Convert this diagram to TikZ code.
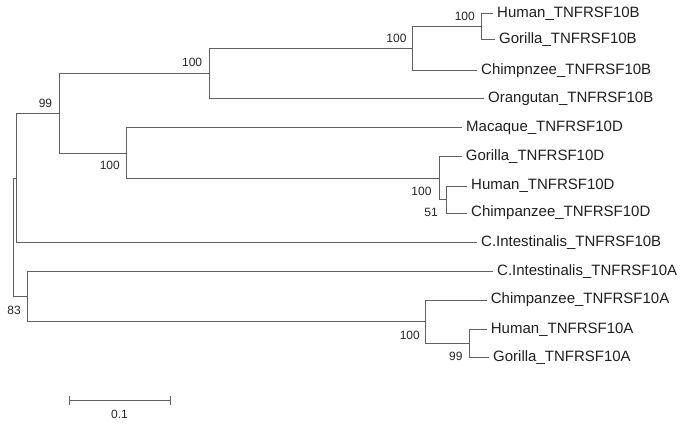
\documentclass[tikz,border=0pt]{standalone}
\usepackage{fontspec}
\setmainfont{Liberation Sans}
\begin{document}
\begin{tikzpicture}[x=1pt,y=-1pt,
  branch/.style={draw=black!62, line width=1pt},
  leaf/.style={anchor=west, inner xsep=4pt, inner ysep=0pt, text=black!88,
    font=\fontsize{15}{15}\selectfont},
  boot/.style={anchor=east, inner sep=0pt, text=black!85,
    font=\fontsize{12}{12}\selectfont}]
\useasboundingbox (0,0) rectangle (685,425);
% internal nodes
\coordinate (root)  at (13.3,237);
\coordinate (n16)   at (16,178);
\coordinate (n99)   at (59,113.5);
\coordinate (nB)    at (209,74);
\coordinate (nHGCB) at (412.7,48.4);
\coordinate (nHGB)  at (481.7,26.4);
\coordinate (nD)    at (126,153);
\coordinate (nGHCD) at (439,178);
\coordinate (nHCD)  at (446,199.5);
\coordinate (nA0)   at (27.3,296.2);
\coordinate (nA)    at (425.7,321.7);
\coordinate (nHGA)  at (469.3,343.5);
% leaves
\node[leaf] (hB)  at (493,13.3)   {Human\_TNFRSF10B};
\node[leaf] (gB)  at (495,39.5)   {Gorilla\_TNFRSF10B};
\node[leaf] (cB)  at (477,70.3)   {Chimpnzee\_TNFRSF10B};
\node[leaf] (oB)  at (484,99)     {Orangutan\_TNFRSF10B};
\node[leaf] (mD)  at (462,128)    {Macaque\_TNFRSF10D};
\node[leaf] (gD)  at (461.7,156.8){Gorilla\_TNFRSF10D};
\node[leaf] (hD)  at (467,186)    {Human\_TNFRSF10D};
\node[leaf] (cD)  at (467,213)    {Chimpanzee\_TNFRSF10D};
\node[leaf] (ciB) at (477,242.7)  {C.Intestinalis\_TNFRSF10B};
\node[leaf] (ciA) at (493,271.5)  {C.Intestinalis\_TNFRSF10A};
\node[leaf] (chA) at (486.7,300)  {Chimpanzee\_TNFRSF10A};
\node[leaf] (huA) at (486.7,329.3){Human\_TNFRSF10A};
\node[leaf] (goA) at (489,357.7)  {Gorilla\_TNFRSF10A};
% branches
\draw[branch] (root) |- (n16);
\draw[branch] (root) |- (nA0);
\draw[branch] (n16) |- (n99);
\draw[branch] (n16) |- (ciB);
\draw[branch] (n99) |- (nB);
\draw[branch] (n99) |- (nD);
\draw[branch] (nB) |- (nHGCB);
\draw[branch] (nB) |- (oB);
\draw[branch] (nHGCB) |- (nHGB);
\draw[branch] (nHGCB) |- (cB);
\draw[branch] (nHGB) |- (hB);
\draw[branch] (nHGB) |- (gB);
\draw[branch] (nD) |- (mD);
\draw[branch] (nD) |- (nGHCD);
\draw[branch] (nGHCD) |- (gD);
\draw[branch] (nGHCD) |- (nHCD);
\draw[branch] (nHCD) |- (hD);
\draw[branch] (nHCD) |- (cD);
\draw[branch] (nA0) |- (ciA);
\draw[branch] (nA0) |- (nA);
\draw[branch] (nA) |- (chA);
\draw[branch] (nA) |- (nHGA);
\draw[branch] (nHGA) |- (huA);
\draw[branch] (nHGA) |- (goA);
% bootstrap values
\node[boot] (bHGB)  at (475,16.7)   {100};
\node[boot] (bHGCB) at (406.7,38.3) {100};
\node[boot] (bB)    at (202.3,62.7) {100};
\node[boot] (b99)   at (52.3,103.3) {99};
\node[boot] (bD)    at (120,165.7)  {100};
\node[boot] (bGHCD) at (431.7,191.7){100};
\node[boot] (bHCD)  at (438,212.7)  {51};
\node[boot] (b83)   at (21,310)     {83};
\node[boot] (bA)    at (420,335)    {100};
\node[boot] (bHGA)  at (462.7,356)  {99};
% scale bar
\coordinate (s1) at (69.7,400.7);
\coordinate (s2) at (170,400.7);
\draw[branch] (s1) -- (s2);
\draw[branch] ([yshift=-4.5]s1) -- ([yshift=4.5]s1);
\draw[branch] ([yshift=-4.5]s2) -- ([yshift=4.5]s2);
\node[inner sep=0pt, text=black!85, font=\fontsize{12}{12}\selectfont] (sl) at (119.5,414) {0.1};
\end{tikzpicture}
\end{document}
